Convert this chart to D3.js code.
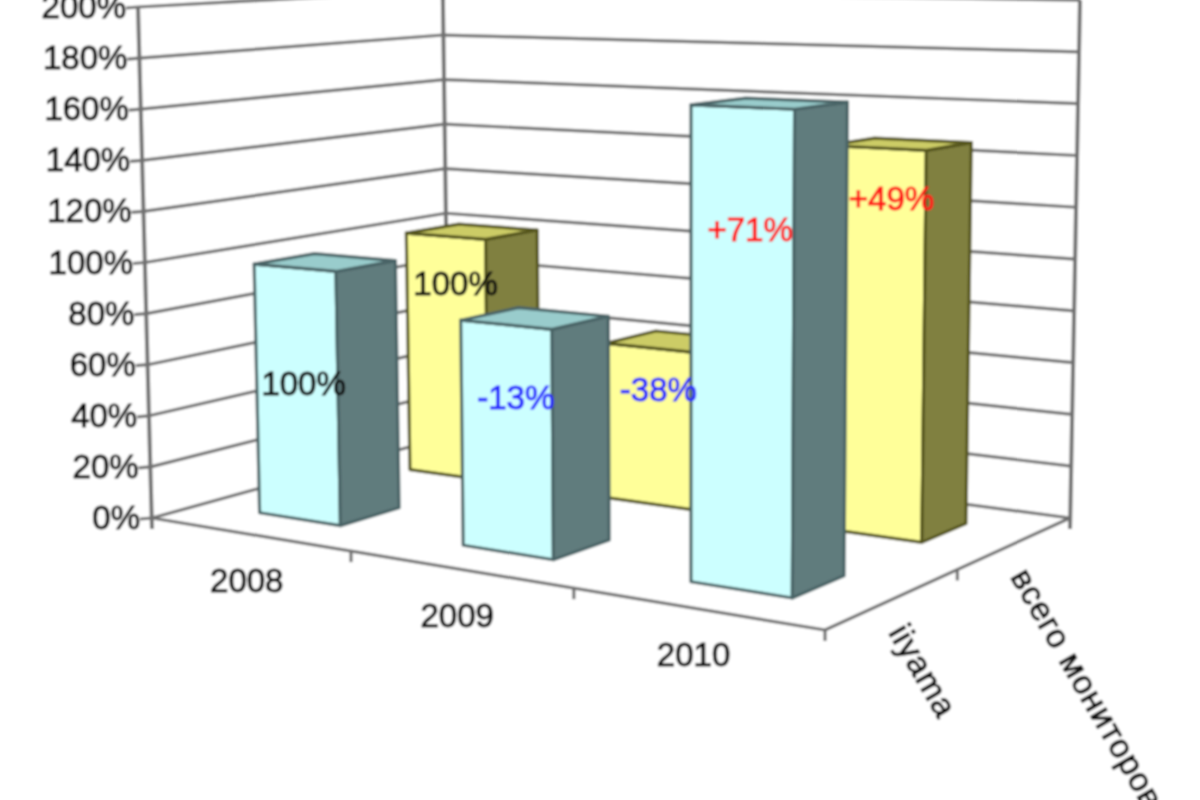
<!DOCTYPE html>
<html>
<head>
<meta charset="utf-8">
<title>iiyama</title>
<script src="https://cdn.jsdelivr.net/npm/d3@7"></script>
<style>
  html, body { margin: 0; padding: 0; background: #fff; }
  svg { display: block; }
  text { font-family: "Liberation Sans", Arial, sans-serif; stroke-width: 1.1; }
</style>
</head>
<body>
<svg id="chart" width="1200" height="800"></svg>
<script>
const years = ["2008", "2009", "2010"];
const seriesNames = ["iiyama", "всего мониторов"];
const iiyamaValues = [98, 84, 168];
const totalValues = [100, 62, 146];
const iiyamaLabels = ["100%", "-13%", "+71%"];
const totalLabels = ["100%", "-38%", "+49%"];
const valueTicks = [0, 20, 40, 60, 80, 100, 120, 140, 160, 180, 200];

const width = 1200;
const height = 800;
const fontSize = 33;
const textColor = "#111";

// floor corners of the 3d box on screen
const floorFL = [152, 518], floorFR = [825, 630], floorBR = [1070, 518], floorBL = [449, 436];

// square -> quad homography for the floor
const sx = floorFL[0] - floorFR[0] + floorBR[0] - floorBL[0];
const sy = floorFL[1] - floorFR[1] + floorBR[1] - floorBL[1];
const dx1 = floorFR[0] - floorBR[0], dy1 = floorFR[1] - floorBR[1];
const dx2 = floorBL[0] - floorBR[0], dy2 = floorBL[1] - floorBR[1];
const den = dx1 * dy2 - dx2 * dy1;
const g = (sx * dy2 - dx2 * sy) / den;
const h = (dx1 * sy - sx * dy1) / den;
const a = floorFR[0] - floorFL[0] + g * floorFR[0];
const b = floorBL[0] - floorFL[0] + h * floorBL[0];
const d = floorFR[1] - floorFL[1] + g * floorFR[1];
const e = floorBL[1] - floorFL[1] + h * floorBL[1];

const yearScale = d3.scaleBand().domain(years).range([0, 1]).paddingInner(0.59).paddingOuter(0.295);
const depthScale = d3.scaleBand().domain(seriesNames).range([0, 1]).paddingInner(0.62).paddingOuter(0.31);
const valueScale = d3.scaleLinear().domain([0, 200]).range([0, 511]);

// u along years, v into the depth, val in percent
function project(u, v, val) {
  const w = 1 + g * u + h * v;
  const x = (a * u + b * v + floorFL[0]) / w;
  const y = (d * u + e * v + floorFL[1]) / w;
  const lean = (x - 687.6) * 0.02614 * val / 200;  // verticals spread a bit going up
  return [x + lean, y - valueScale(val) / w];
}

const svg = d3.select("#chart").attr("viewBox", [0, 0, width, height]);

// the reference is a blurry upscaled image
svg.append("defs").append("filter").attr("id", "soft")
    .attr("filterUnits", "userSpaceOnUse")
    .attr("x", 0).attr("y", 0)
    .attr("width", width).attr("height", height)
  .append("feGaussianBlur").attr("stdDeviation", 0.9);

const root = svg.append("g").attr("filter", "url(#soft)");
root.append("rect").attr("width", width).attr("height", height).attr("fill", "#fff");

const line = d3.line();
const wallColor = "#707070";

function strokeLine(p, q, w) {
  root.append("path").attr("d", line([p, q])).attr("fill", "none")
      .attr("stroke", wallColor).attr("stroke-width", w || 3.2);
}

// gridlines on the two back walls
valueTicks.forEach(t => {
  strokeLine(project(0, 0, t), project(0, 1, t));
  strokeLine(project(0, 1, t), project(1, 1, t));
  const p = project(0, 0, t);
  strokeLine([p[0] - 12, p[1] + 1], p);
});

// wall edges, the outer two run a bit under the floor
const below = p => [p[0], p[1] + 11];
strokeLine(below(project(0, 0, 0)), project(0, 0, 200), 4);
strokeLine(project(0, 1, 0), project(0, 1, 200), 4);
strokeLine(below(project(1, 1, 0)), project(1, 1, 200), 4);

// floor edges with ticks
strokeLine(project(0, 0, 0), project(1, 0, 0));
strokeLine(project(1, 0, 0), project(1, 1, 0));
[1, 2, 3].forEach(i => {
  const p = project(i * yearScale.step(), 0, 0);
  strokeLine(p, [p[0], p[1] + 11]);
});
const vTick = project(1, depthScale.step(), 0);
strokeLine(vTick, [vTick[0], vTick[1] + 11]);

const faceColors = {
  iiyama: { front: "#ccffff", side: "#607b7d", top: "#99cccc", edge: "#4a6466" },
  total: { front: "#ffff99", side: "#808040", top: "#cccc66", edge: "#55551f" }
};

function drawBar(year, name, val, colors) {
  const u0 = yearScale(year), u1 = u0 + yearScale.bandwidth();
  const v0 = depthScale(name), v1 = v0 + depthScale.bandwidth();
  const faces = [
    [[u0, v0, 0], [u1, v0, 0], [u1, v0, val], [u0, v0, val], colors.front],
    [[u1, v0, 0], [u1, v1, 0], [u1, v1, val], [u1, v0, val], colors.side],
    [[u0, v0, val], [u1, v0, val], [u1, v1, val], [u0, v1, val], colors.top]
  ];
  root.append("g").selectAll("path")
    .data(faces)
    .join("path")
      .attr("d", f => line(f.slice(0, 4).map(c => project(c[0], c[1], c[2]))) + "Z")
      .attr("fill", f => f[4])
      .attr("stroke", colors.edge)
      .attr("stroke-width", 3.2)
      .attr("stroke-linejoin", "round");
}

// back row first so the front row covers it
years.forEach((y, i) => drawBar(y, seriesNames[1], totalValues[i], faceColors.total));
years.forEach((y, i) => drawBar(y, seriesNames[0], iiyamaValues[i], faceColors.iiyama));

// value axis labels
root.append("g").selectAll("text")
  .data(valueTicks)
  .join("text")
    .attr("x", t => project(0, 0, t)[0] - 12)
    .attr("y", t => project(0, 0, t)[1] + 11)
    .attr("text-anchor", "end")
    .attr("font-size", fontSize)
    .attr("fill", textColor).attr("stroke", textColor)
    .text(t => t + "%");

// year labels
root.append("g").selectAll("text")
  .data(years)
  .join("text")
    .attr("x", y => project(yearScale(y) + yearScale.bandwidth() / 2, 0, 0)[0] - 2)
    .attr("y", y => project(yearScale(y) + yearScale.bandwidth() / 2, 0, 0)[1] + 58)
    .attr("text-anchor", "middle")
    .attr("font-size", fontSize)
    .attr("fill", textColor).attr("stroke", textColor)
    .text(y => y);

// series labels, slanted along the depth axis side
root.append("g").selectAll("text")
  .data(seriesNames)
  .join("text")
    .attr("transform", n => {
      const p = project(1, depthScale(n) + depthScale.bandwidth() / 2, 0);
      return `translate(${p[0] - 6},${p[1] + 34}) rotate(60)`;
    })
    .attr("font-size", fontSize)
    .attr("letter-spacing", 1)
    .attr("fill", textColor).attr("stroke", textColor)
    .text(n => n);

// data labels sit on the front faces, each was dragged by hand in the original
const labelColors = {
  "100%": "#111", "-13%": "#2a2aff", "-38%": "#2a2aff", "+71%": "#ff1a1a", "+49%": "#ff1a1a"
};
function drawLabels(labels, values, name, nudges) {
  labels.forEach((t, i) => {
    const uc = yearScale(years[i]) + yearScale.bandwidth() / 2;
    const p = project(uc, depthScale(name), values[i]);
    root.append("text")
        .attr("x", p[0] + nudges[i][0])
        .attr("y", p[1] + nudges[i][1])
        .attr("text-anchor", "middle")
        .attr("font-size", fontSize)
        .attr("fill", labelColors[t]).attr("stroke", labelColors[t])
        .text(t);
  });
}
drawLabels(iiyamaLabels, iiyamaValues, seriesNames[0], [[9, 127], [10, 84], [8, 134]]);
drawLabels(totalLabels, totalValues, seriesNames[1], [[10, 59], [9, 53], [15, 62]]);
</script>
</body>
</html>
